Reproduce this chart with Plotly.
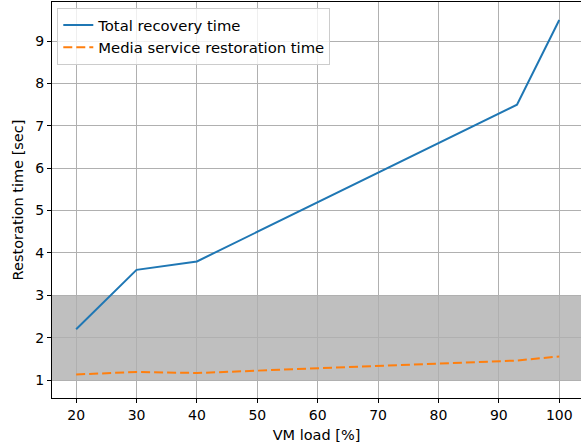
import plotly.graph_objects as go

vm_load = [20, 30, 40, 93, 100]
total_recovery = [2.2, 3.6, 3.8, 7.5, 9.5]
media_restoration = [1.13, 1.19, 1.165, 1.46, 1.555]
band_low, band_high = 1, 3

font = dict(family="DejaVu Sans", size=14, color="#000000")

fig = go.Figure()
fig.add_trace(go.Scatter(x=vm_load, y=total_recovery, mode="lines",
                         name="Total recovery time",
                         line=dict(color="#1f77b4", width=2)))
fig.add_trace(go.Scatter(x=vm_load, y=media_restoration, mode="lines",
                         name="Media service restoration time",
                         line=dict(color="#ff7f0e", width=2, dash="9px,4px")))

fig.add_shape(type="rect", xref="paper", yref="y", x0=0, x1=1,
              y0=band_low, y1=band_high, fillcolor="#bfbfbf",
              line=dict(width=0), layer="below")

fig.update_layout(
    width=581, height=446,
    margin=dict(l=52, r=0, t=2, b=48),
    plot_bgcolor="rgba(0,0,0,0)", paper_bgcolor="white",
    font=font,
    showlegend=True,
    legend=dict(x=0.01, y=0.985, xanchor="left", yanchor="top",
                bgcolor="rgba(255,255,255,0.8)", bordercolor="#cccccc",
                borderwidth=1, font=dict(family="DejaVu Sans", size=14.8, color="#000000"),
                tracegroupgap=0, itemwidth=30),
)
fig.update_xaxes(range=[16, 103.6], tickmode="array",
                 tickvals=[20, 30, 40, 50, 60, 70, 80, 90, 100],
                 showgrid=True, gridcolor="#b0b0b0", gridwidth=1,
                 showline=True, linecolor="black", linewidth=1, mirror=True,
                 ticks="outside", ticklen=4, tickcolor="black",
                 zeroline=False,
                 title=dict(text="VM load [%]", standoff=8,
                            font=dict(family="DejaVu Sans", size=14.5, color="#000000")))
fig.update_yaxes(range=[0.575, 9.925], tickmode="array",
                 tickvals=[1, 2, 3, 4, 5, 6, 7, 8, 9],
                 showgrid=True, gridcolor="#b0b0b0", gridwidth=1,
                 showline=True, linecolor="black", linewidth=1, mirror=False,
                 ticks="outside", ticklen=4, tickcolor="black",
                 zeroline=False,
                 title=dict(text="Restoration time [sec]", standoff=8,
                            font=dict(family="DejaVu Sans", size=14.5, color="#000000")))

fig.write_html("out.html")
